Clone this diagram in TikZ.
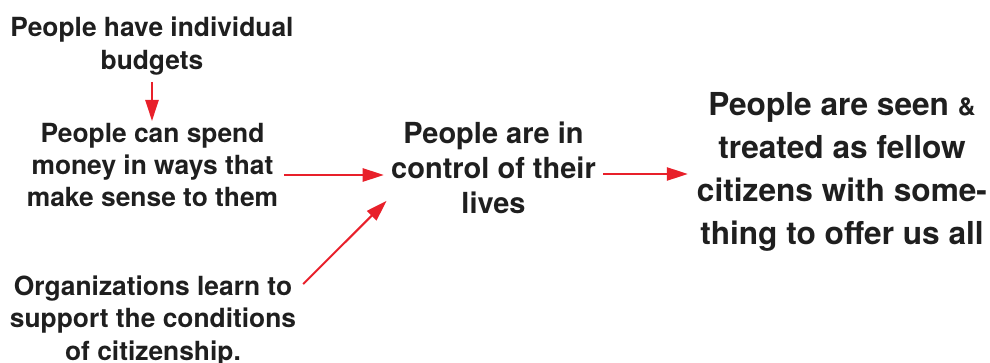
\documentclass[tikz,border=0pt]{standalone}
\usepackage{fontspec}
\setmainfont{TeX Gyre Heros}
\usepackage{tikz}
\usetikzlibrary{arrows.meta}
\definecolor{arrowred}{HTML}{E8202A}

\begin{document}
\begin{tikzpicture}[
  font=\bfseries,
  txt/.style={align=center, inner sep=1pt, text=black!88},
  small/.style={txt, font=\bfseries\fontsize{15}{18.3}\selectfont},
  mid/.style={txt, font=\bfseries\fontsize{16.5}{19.8}\selectfont},
  big/.style={txt, font=\bfseries\fontsize{18}{24.6}\selectfont},
  arrow/.style={-{Triangle[length=12pt,width=7.5pt]}, draw=arrowred, line width=1.15pt}
]
\useasboundingbox (0,0) rectangle (19.8,7.24);

\node[small] (budgets) at (3.04,6.32) {People have individual\\budgets};
\node[small] (spend) at (3.05,3.94) {People can spend\\money in ways that\\make sense to them};
\node[mid] (control) at (9.87,3.88) {People are in\\control of their\\lives};
\node[big] (citizens) at (16.84,3.80) {People are seen {\fontsize{14}{14}\selectfont\&}\\treated as fellow\\citizens with some-\\thing to offer us all};
\node[small] (orgs) at (3.06,0.82) {Organizations learn to\\support the conditions\\of citizenship.};

\draw[arrow] (budgets.south) ++(0,-0.1) coordinate (b1) -- (b1 |- spend.north);
\draw[arrow, shorten <=2pt, shorten >=3pt] ([yshift=-0.2cm]spend.east) -- ([yshift=-0.2cm]spend.east -| control.west);
\draw[arrow, shorten <=3pt, shorten >=4pt] ([yshift=-0.12cm]control.east) -- ([yshift=-0.12cm]control.east -| citizens.west);
\draw[arrow] ([shift={(0.1,-0.2)}]orgs.north east) -- ([shift={(-0.05,0.3)}]control.south west);
\end{tikzpicture}
\end{document}
